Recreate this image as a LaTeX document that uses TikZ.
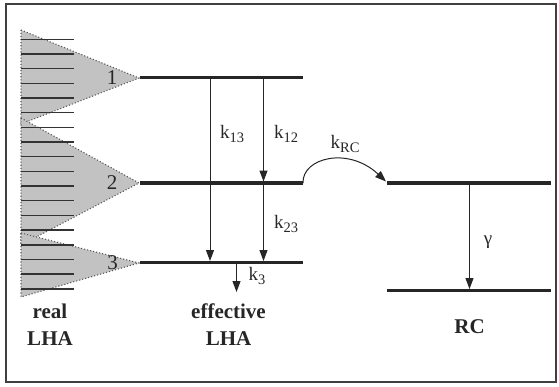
\documentclass[tikz,border=0pt]{standalone}
\usepackage{fontspec}
\setmainfont{Liberation Serif}
\usetikzlibrary{arrows.meta}
\newcommand{\ksub}[1]{k\raisebox{-0.45ex}{\fontsize{14.5}{14.5}\selectfont #1}}
\begin{document}
\begin{tikzpicture}[x=1pt,y=-1pt,
  level/.style={line width=3.6pt,color=black!85},
  rate/.style={line width=1pt,color=black!85,-{Triangle[length=11pt,width=8pt]}},
  tri/.style={fill=black!24,draw=black!65,dotted,line width=1.1pt},
  hline/.style={line width=1.4pt,color=black!80},
  klab/.style={font=\fontsize{19}{19}\selectfont,inner sep=0pt,color=black!85},
  blab/.style={font=\fontsize{21}{21}\selectfont\bfseries,inner sep=0pt,color=black!85},
  num/.style={font=\fontsize{21}{21}\selectfont,inner sep=0pt,color=black!85}]
\useasboundingbox (0,0) rectangle (559,386);
\draw[line width=1.4pt,color=black!75] (6,4) rectangle (556,382);
% triangles
\draw[tri] (21,30) -- (139,78) -- (21,124) -- cycle;
\draw[tri] (21,118) -- (139,183) -- (21,245) -- cycle;
\draw[tri] (21,233) -- (139,263) -- (21,297) -- cycle;
\foreach \i in {0,...,17} {
  \draw[hline] (21,39.3+14.68*\i) -- (74,39.3+14.68*\i);
}
\node[num] (n1) at (112,78) {1};
\node[num] (n2) at (112,183) {2};
\node[num] (n3) at (112.5,263) {3};
% effective levels
\coordinate (L1a) at (140,77.5); \coordinate (L1b) at (303,77.5);
\coordinate (L2a) at (140,183); \coordinate (L2b) at (303,183);
\coordinate (L3a) at (140,262.5); \coordinate (L3b) at (303,262.5);
\draw[level] (L1a) -- (L1b);
\draw[level] (L2a) -- (L2b);
\draw[level] (L3a) -- (L3b);
% RC levels
\coordinate (R1a) at (387,183); \coordinate (R1b) at (551,183);
\coordinate (R2a) at (387,290.5); \coordinate (R2b) at (551,290.5);
\draw[level] (R1a) -- (R1b);
\draw[level] (R2a) -- (R2b);
% rate arrows
\coordinate (k13s) at (210,79); \coordinate (k13e) at (210,261);
\coordinate (k12s) at (263.5,79); \coordinate (k12e) at (263.5,181.5);
\coordinate (k23s) at (263.5,184.5); \coordinate (k23e) at (263.5,261);
\coordinate (k3s) at (236.5,264); \coordinate (k3e) at (236.5,292);
\coordinate (gs) at (469.5,184.5); \coordinate (ge) at (469.5,289);
\draw[rate] (k13s) -- (k13e);
\draw[rate] (k12s) -- (k12e);
\draw[rate] (k23s) -- (k23e);
\draw[rate] (k3s) -- (k3e);
\draw[rate] (gs) -- (ge);
\draw[rate] (L2b) .. controls (302,158) and (348,146) .. (386,181.5);
% labels
\node[klab] (l13) at (232,134) {\ksub{13}};
\node[klab] (l12) at (286,134) {\ksub{12}};
\node[klab] (l23) at (286,224) {\ksub{23}};
\node[klab] (l3) at (257,276) {\ksub{3}};
\node[klab] (lrc) at (345,144) {\ksub{RC}};
\node[klab] (lg) at (488,242) {γ};
\node[blab] (real) at (50,311) {real};
\node[blab] (lha1) at (50,339) {LHA};
\node[blab] (eff) at (228.5,311) {effective};
\node[blab] (lha2) at (228.5,339) {LHA};
\node[blab] (rc) at (469.5,327) {RC};
\end{tikzpicture}
\end{document}
